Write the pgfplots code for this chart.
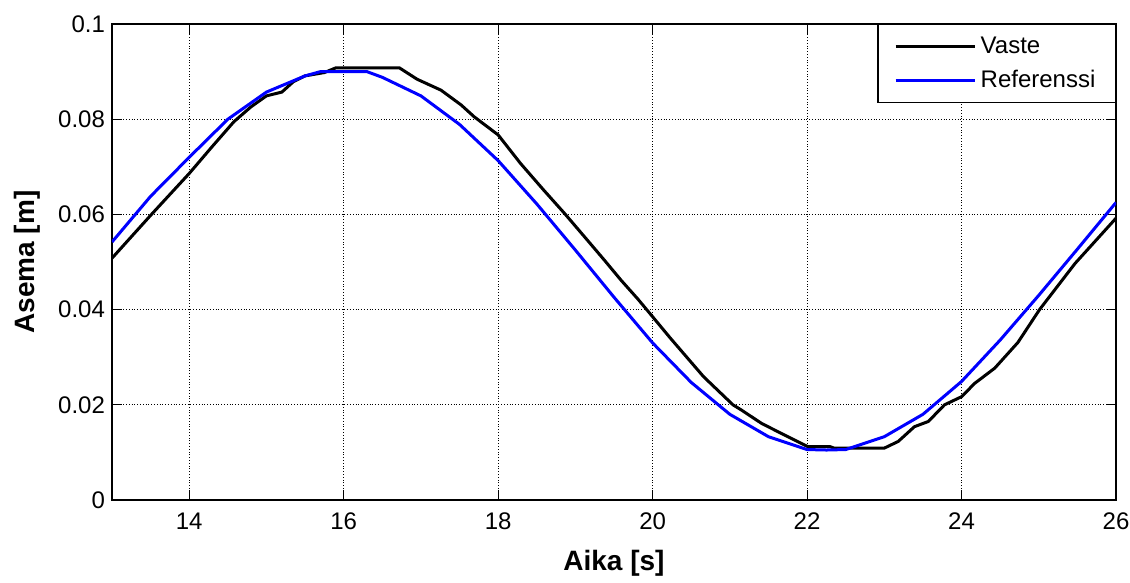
\documentclass[border=0pt]{standalone}
\usepackage{pgfplots}
\pgfplotsset{compat=1.18}
\usepackage{fontspec}
\setmainfont{Liberation Sans}
\begin{document}
\begin{tikzpicture}
\begin{axis}[
  name=ax,
  scale only axis,
  width=502pt, height=238pt,
  xmin=13, xmax=26, ymin=0, ymax=0.1,
  xtick={14,16,...,26},
  ytick={0,0.02,0.04,0.06,0.08,0.1},
  yticklabels={0,0.02,0.04,0.06,0.08,0.1},
  xticklabels={14,16,18,20,22,24,26},
  tick label style={font=\fontsize{12}{14}\selectfont},
  xticklabel style={inner xsep=0pt, yshift=-3pt},
  grid=major,
  major grid style={black, densely dotted, line width=0.5pt},
  tick align=inside,
  major tick length=5pt,
  axis line style={black, line width=0.6pt},
  every tick/.style={black, line width=0.5pt},
  xlabel={\textbf{Aika [s]}},
  ylabel={\textbf{Asema [m]}},
  label style={font=\fontsize{14}{16}\selectfont},
  xlabel style={yshift=-3pt},
  ylabel style={yshift=2pt},
  legend style={at={(1,1)}, anchor=north east, draw=black, line width=0.6pt,
    font=\fontsize{12}{14}\selectfont, inner xsep=8pt, inner ysep=4pt, row sep=3pt},
  legend cell align=left,
  legend image code/.code={\draw[#1, line width=1.5pt] (0cm,0cm) -- (1.4cm,0cm);},
]
\addplot[black, line width=1.5pt] coordinates {
(13.0,0.0508) (13.5,0.0598) (14.0,0.0686) (14.3,0.0743) (14.58,0.0795) (14.8,0.0826)
(15.0,0.0849) (15.2,0.0857) (15.35,0.0879) (15.5,0.0891) (15.75,0.0898) (15.9,0.0908)
(16.72,0.0908) (16.95,0.0884) (17.26,0.0861) (17.52,0.0830) (17.69,0.0805) (18.0,0.0767)
(18.29,0.0707) (18.59,0.0651) (18.86,0.0602) (19.16,0.0545) (19.38,0.0503) (19.59,0.0462)
(19.81,0.0422) (20.0,0.0385) (20.23,0.0340) (20.66,0.0259) (21.04,0.0200) (21.15,0.0189)
(21.41,0.0161) (21.58,0.0147) (22.01,0.0112) (22.3,0.0112) (22.35,0.0109) (23.0,0.0109)
(23.18,0.0123) (23.39,0.0154) (23.57,0.0165) (23.78,0.0200) (24.0,0.0217) (24.17,0.0245)
(24.43,0.0277) (24.73,0.0331) (25.01,0.0400) (25.47,0.0497) (26.0,0.0592)
};
\addlegendentry{Vaste}
\addplot[blue, line width=1.5pt] coordinates {
(13.0,0.0542) (13.5,0.0638) (14.0,0.0720) (14.5,0.0800) (15.0,0.0857) (15.5,0.0891)
(15.7,0.0900) (16.3,0.0900) (16.5,0.0888) (17.0,0.0849) (17.5,0.0789) (18.0,0.0713)
(18.5,0.0622) (19.0,0.0525) (19.5,0.0426) (20.0,0.0330) (20.5,0.0247) (21.0,0.0180)
(21.5,0.0133) (22.0,0.0106) (22.25,0.0105) (22.5,0.0106) (23.0,0.0133) (23.5,0.0180)
(24.0,0.0249) (24.5,0.0336) (25.0,0.0430) (25.5,0.0527) (26.0,0.0625)
};
\addlegendentry{Referenssi}
\end{axis}
\path ([shift={(-56pt,-34.5pt)}]ax.south west) rectangle ([shift={(7pt,12pt)}]ax.north east);
\end{tikzpicture}
\end{document}
